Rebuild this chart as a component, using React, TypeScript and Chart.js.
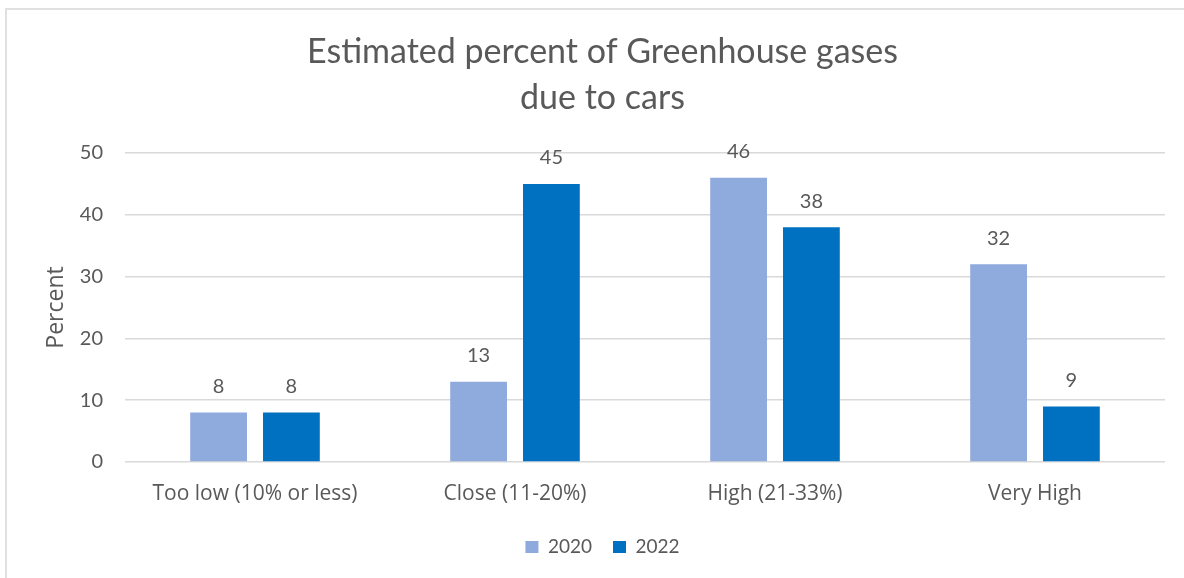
import { useEffect, useRef } from "react";
import { Chart, registerables } from "chart.js";

Chart.register(...registerables);

// Survey answers: estimated share of greenhouse gases caused by cars
const categories = ["Too low (10% or less)", "Close (11-20%)", "High (21-33%)", "Very High"];
const seriesNames = ["2020", "2022"];
const values2020 = [8, 13, 46, 32];
const values2022 = [8, 45, 38, 9];
const yTickValues = [0, 10, 20, 30, 40, 50];

const colors = ["#8FAADC", "#0070C0"];
const textColor = "#595959";
const gridColor = "#D9D9D9";
const fontFamily = "Lato, 'Open Sans', sans-serif";
const wideFont = "'Open Sans', Lato, sans-serif";

// Writes each bar's value above it
const valueLabels = {
  id: "valueLabels",
  afterDatasetsDraw(chart: any) {
    const ctx = chart.ctx;
    ctx.save();
    ctx.font = `20px ${fontFamily}`;
    ctx.fillStyle = textColor;
    ctx.textAlign = "center";
    ctx.textBaseline = "middle";
    chart.data.datasets.forEach((ds: any, di: number) => {
      const meta = chart.getDatasetMeta(di);
      meta.data.forEach((bar: any, i: number) => {
        ctx.fillText(String(ds.data[i]), bar.x, bar.y - 26);
      });
    });
    ctx.restore();
  },
};

export default function App() {
  const canvasRef = useRef<HTMLCanvasElement | null>(null);

  useEffect(() => {
    if (!canvasRef.current) return;
    const chart = new Chart(canvasRef.current, {
      type: "bar",
      data: {
        labels: categories,
        datasets: [
          { label: seriesNames[0], data: values2020, backgroundColor: colors[0], barPercentage: 0.78, categoryPercentage: 0.56 },
          { label: seriesNames[1], data: values2022, backgroundColor: colors[1], barPercentage: 0.78, categoryPercentage: 0.56 },
        ],
      },
      options: {
        responsive: false,
        animation: false,
        devicePixelRatio: 1,
        layout: { padding: { left: 40, right: 19, top: 0, bottom: 11.5 } },
        plugins: {
          title: {
            display: true,
            text: ["Estimated percent of Greenhouse gases", "due to cars"],
            color: textColor,
            font: { family: fontFamily, size: 34, weight: "normal", lineHeight: 46 / 34 },
            padding: { top: 29, bottom: 32 },
          },
          legend: {
            position: "bottom",
            labels: {
              color: textColor,
              font: { family: fontFamily, size: 19 },
              boxWidth: 13,
              boxHeight: 12,
              padding: 21,
            },
          },
          tooltip: { enabled: false },
        },
        scales: {
          x: {
            grid: { display: false, drawTicks: false },
            border: { display: false },
            ticks: { color: textColor, font: { family: wideFont, size: 21 }, padding: 19, maxRotation: 0 },
            afterFit: (scale: any) => {
              scale.height = 54.5;
            },
          },
          y: {
            min: 0,
            max: 50,
            afterBuildTicks: (scale: any) => {
              scale.ticks = yTickValues.map((v) => ({ value: v }));
            },
            grid: { color: gridColor, lineWidth: 1.5, drawTicks: false },
            border: { display: false },
            ticks: { color: textColor, font: { family: fontFamily, size: 20 }, padding: 22 },
            title: {
              display: true,
              text: "Percent",
              color: textColor,
              font: { family: wideFont, size: 23 },
              padding: { top: 3, bottom: 0 },
            },
            afterFit: (scale: any) => {
              scale.width = 85;
            },
          },
        },
      },
      plugins: [valueLabels],
    });
    return () => chart.destroy();
  }, []);

  return (
    <div>
      <div
        style={{
          position: "absolute",
          left: 5,
          top: 8,
          width: 1179,
          height: 570,
          boxSizing: "border-box",
          borderTop: "2px solid #E0E0E0",
          borderLeft: "2px solid #E0E0E0",
        }}
      />
      <canvas
        ref={canvasRef}
        width={1184}
        height={578}
        style={{ position: "absolute", left: 0, top: 0, width: 1184, height: 578 }}
      />
    </div>
  );
}
